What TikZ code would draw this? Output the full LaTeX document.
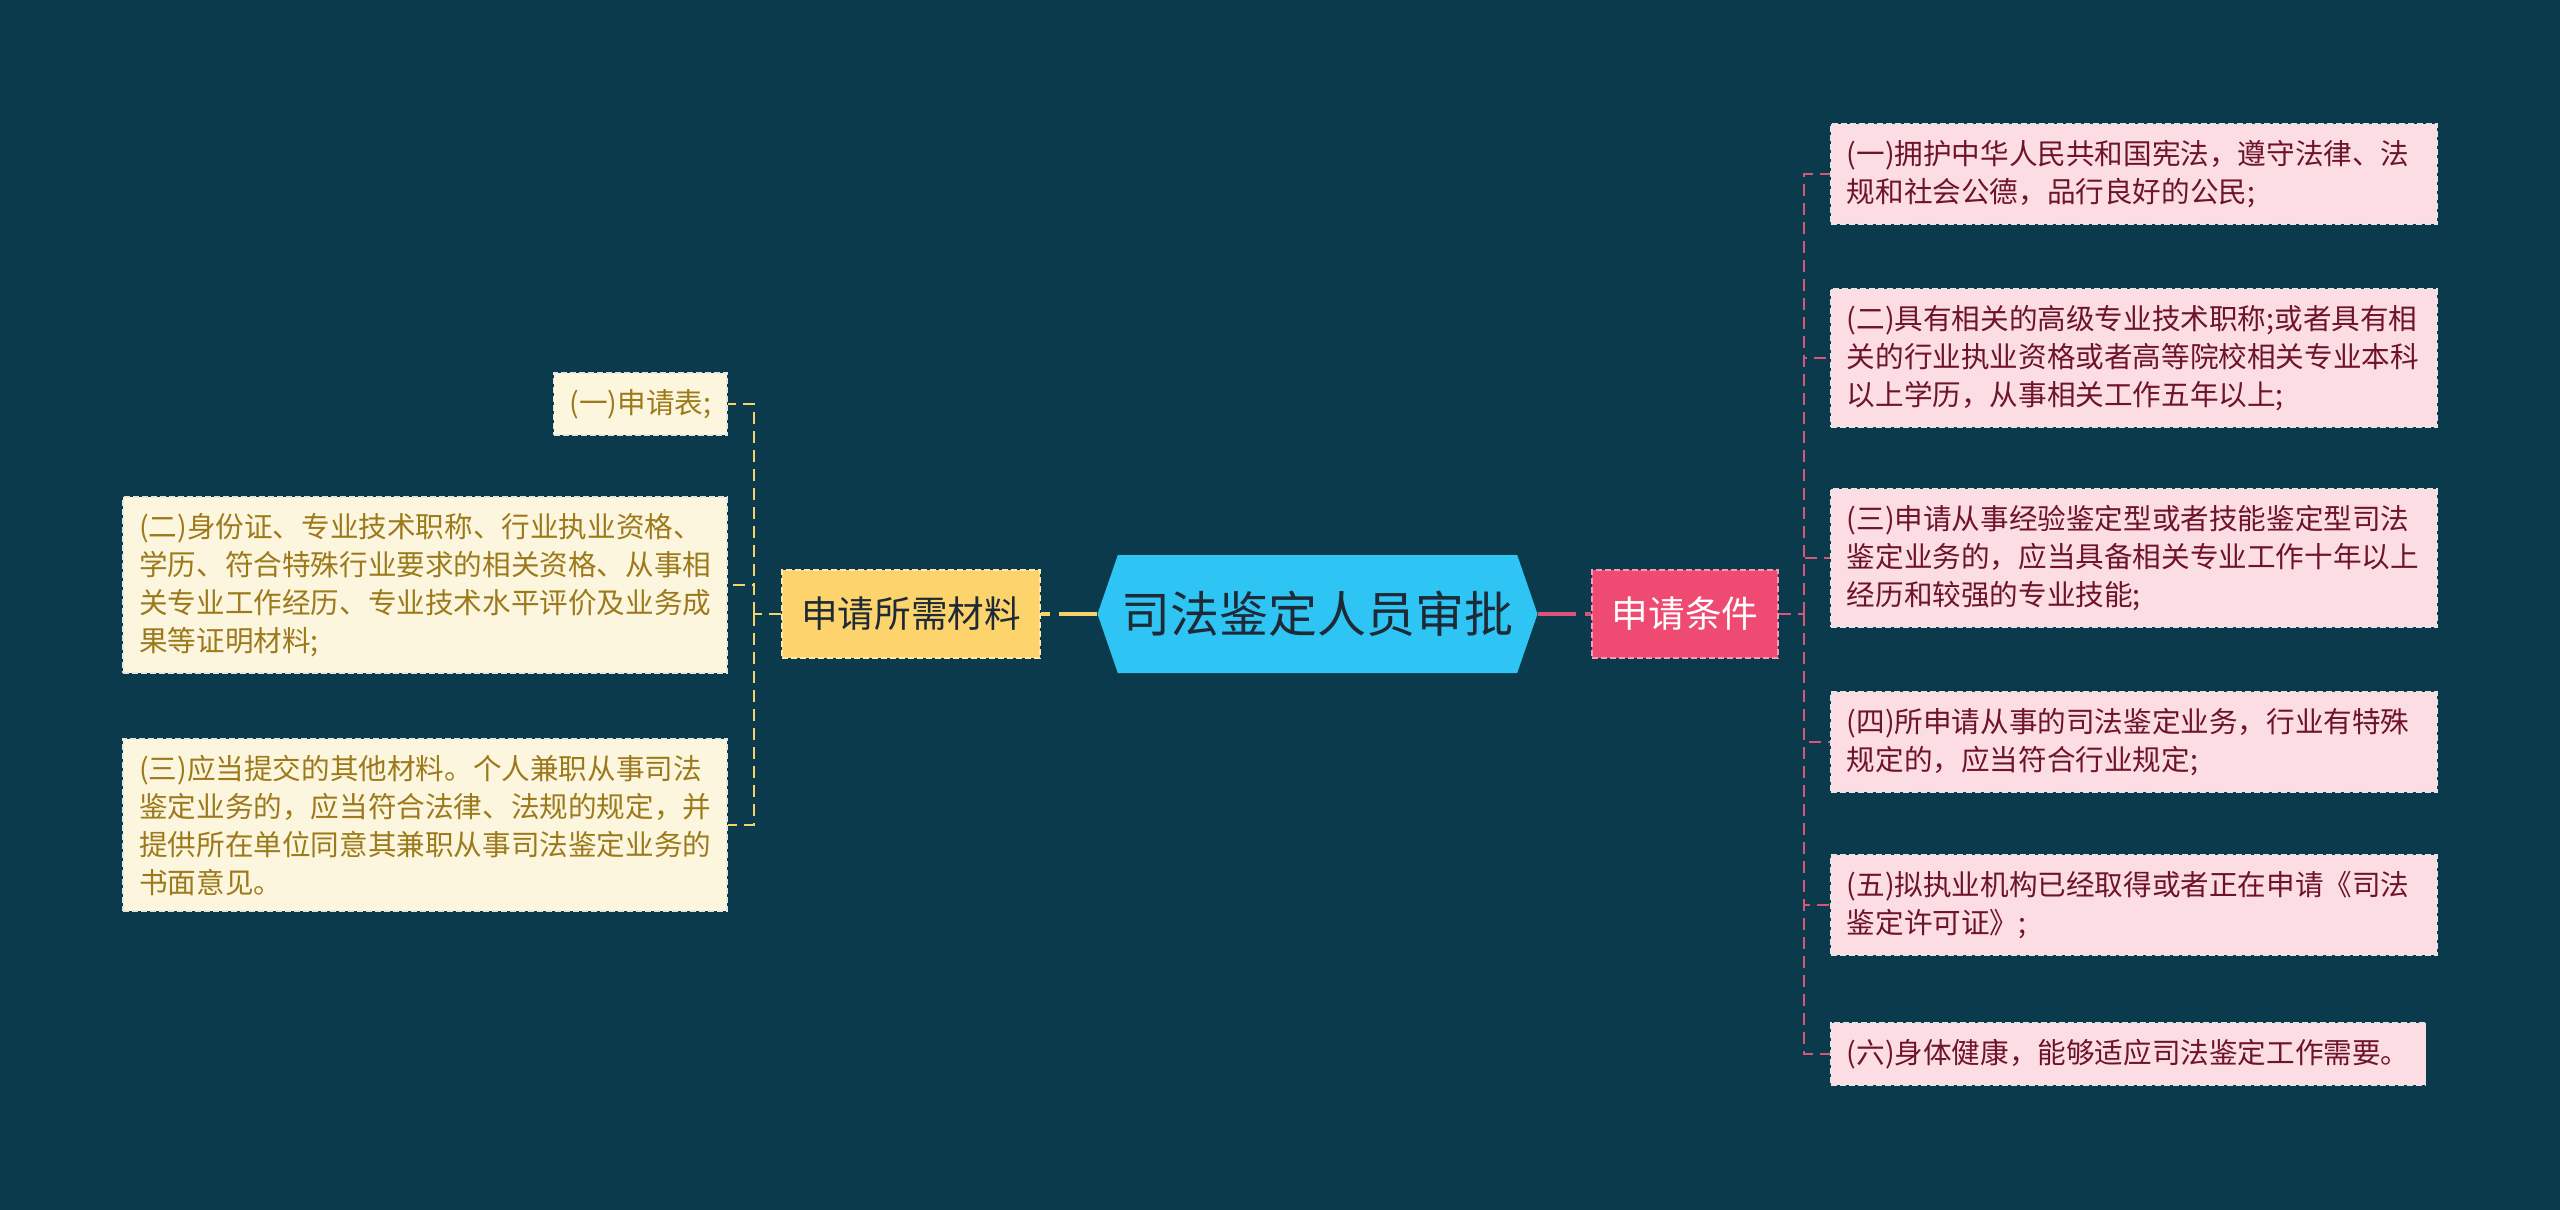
\documentclass[tikz,border=0pt]{standalone}
\usepackage{fontspec}
\setmainfont{Noto Sans CJK SC}
\usetikzlibrary{shapes.symbols}
\definecolor{bgcol}{HTML}{0A3A4C}
\definecolor{rootcol}{HTML}{2EC4F3}
\definecolor{roottxt}{HTML}{1E2A36}
\definecolor{matcol}{HTML}{FDD36B}
\definecolor{matleaf}{HTML}{FDF6DE}
\definecolor{mattxt}{HTML}{9C7A1C}
\definecolor{condcol}{HTML}{EF4A72}
\definecolor{condleaf}{HTML}{FCDDE4}
\definecolor{condtxt}{HTML}{6E1428}
\definecolor{matline}{HTML}{F5D36A}
\definecolor{condline}{HTML}{D9547A}
\tikzset{
  rootnode/.style={shape=signal,signal to=west and east,signal pointer angle=142,
    fill=rootcol,text=roottxt,minimum width=220pt,minimum height=59pt,inner sep=0pt,
    font=\fontsize{24.5pt}{28pt}\selectfont},
  branchbox/.style={draw=#1!55!white,fill=#1,line width=0.8pt,dash pattern=on 3pt off 1.5pt,
    minimum height=44pt,inner xsep=6pt,font=\fontsize{18.3pt}{22pt}\selectfont},
  leafbox/.style={draw=white!80!gray,line width=0.8pt,dash pattern=on 3pt off 1.5pt,
    align=left,inner xsep=8pt,inner ysep=8pt,font=\fontsize{14.3pt}{19pt}\selectfont},
  matleafbox/.style={leafbox,fill=matleaf,text=mattxt,anchor=east},
  condleafbox/.style={leafbox,fill=condleaf,text=condtxt,anchor=west},
  wide/.style={text width=287pt},
  link/.style={line width=1pt,dash pattern=on 6pt off 3.5pt},
  mainlink/.style={line width=2pt,dash pattern=on 19pt off 4.5pt}
}
\begin{document}
\begin{tikzpicture}[x=0.5pt,y=-0.5pt]
\fill[bgcol] (0,0) rectangle (2560,1210);
% centre and first level
\node[rootnode] (root) at (1317.5,614) {司法鉴定人员审批};
\node[branchbox=matcol,text=roottxt,minimum width=129pt] (mat) at (911,614) {申请所需材料};
\node[branchbox=condcol,text=white,minimum width=93pt] (cond) at (1685,614) {申请条件};
\draw[mainlink,matline] (root.west) -- (mat.east);
\draw[mainlink,condline] (root.east) -- (cond.west);
% materials
\node[matleafbox] (m1) at (728,404) {(一)申请表;};
\node[matleafbox] (m2) at (728,585) {(二)身份证、专业技术职称、行业执业资格、\\学历、符合特殊行业要求的相关资格、从事相\\关专业工作经历、专业技术水平评价及业务成\\果等证明材料;};
\node[matleafbox] (m3) at (728,825) {(三)应当提交的其他材料。个人兼职从事司法\\鉴定业务的，应当符合法律、法规的规定，并\\提供所在单位同意其兼职从事司法鉴定业务的\\书面意见。};
\coordinate (lj) at (754,614);
\draw[link,matline] (mat.west) -- (lj);
\foreach \n in {m1,m2,m3}
  \draw[link,matline] (lj) |- (\n.east);
% conditions
\node[condleafbox,wide] (c1) at (1830,174) {(一)拥护中华人民共和国宪法，遵守法律、法\\规和社会公德，品行良好的公民;};
\node[condleafbox,wide] (c2) at (1830,358) {(二)具有相关的高级专业技术职称;或者具有相\\关的行业执业资格或者高等院校相关专业本科\\以上学历，从事相关工作五年以上;};
\node[condleafbox,wide] (c3) at (1830,558) {(三)申请从事经验鉴定型或者技能鉴定型司法\\鉴定业务的，应当具备相关专业工作十年以上\\经历和较强的专业技能;};
\node[condleafbox,wide] (c4) at (1830,742) {(四)所申请从事的司法鉴定业务，行业有特殊\\规定的，应当符合行业规定;};
\node[condleafbox,wide] (c5) at (1830,905) {(五)拟执业机构已经取得或者正在申请《司法\\鉴定许可证》;};
\node[condleafbox] (c6) at (1830,1054) {(六)身体健康，能够适应司法鉴定工作需要。};
\coordinate (rj) at (1804,614);
\draw[link,condline] (cond.east) -- (rj);
\foreach \n in {c1,c2,c3,c4,c5,c6}
  \draw[link,condline] (rj) |- (\n.west);
\end{tikzpicture}
\end{document}
